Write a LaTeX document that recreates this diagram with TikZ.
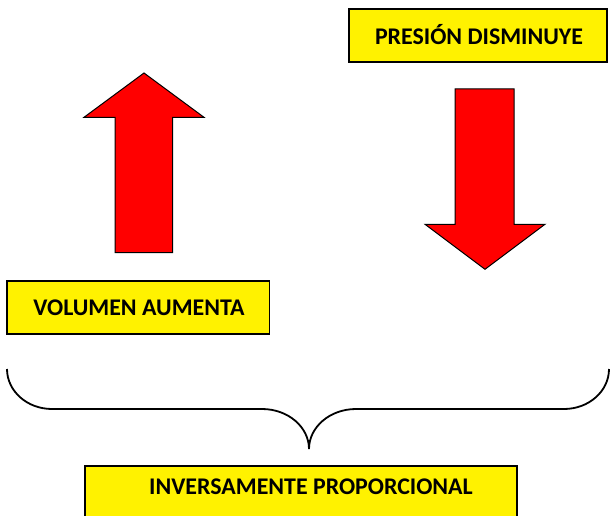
\documentclass[tikz,border=0pt]{standalone}
\usepackage{fontspec}
\setmainfont{Carlito}
\begin{document}
\begin{tikzpicture}[x=1pt,y=-1pt,
  ybox/.style={draw=black,line width=1.5pt,fill=yellow,inner sep=0pt},
  lbl/.style={font=\fontsize{23.9}{26}\selectfont\bfseries,inner sep=0pt,anchor=center},
  redarrow/.style={fill=red,draw=black,line width=1pt,line join=miter},
  bracestyle/.style={draw=black,line width=1.8pt}]
\useasboundingbox (0,0) rectangle (610,516);
\begin{scope}
\clip (0,0) rectangle (610,516);
% boxes
\node[ybox,minimum width=258pt,minimum height=53pt] (pbox) at (478,35.5) {};
\node[lbl] (ptext) at (479,35) {PRESIÓN DISMINUYE};
\node[ybox,minimum width=262.5pt,minimum height=53pt] (vbox) at (138,307.5) {};
\node[lbl] (vtext) at (139,308) {VOLUMEN AUMENTA};
\node[ybox,minimum width=432pt,minimum height=60pt] (ibox) at (301,496) {};
\node[lbl] (itext) at (311,487) {INVERSAMENTE PROPORCIONAL};
% up arrow
\path[redarrow] (144,73) -- (204,117.3) -- (172.7,117.3) -- (172.7,252.7) -- (115,252.7) -- (115,117.3) -- (84,117.3) -- cycle;
% down arrow
\path[redarrow] (455,89) -- (514,89) -- (514,224.3) -- (545,224.3) -- (485,269.3) -- (425,224.3) -- (455,224.3) -- cycle;
% brace
\coordinate (bl) at (7,369);
\coordinate (br) at (609,369);
\coordinate (bt) at (309,449);
\path[bracestyle] (bl) .. controls (7,391) and (27,409) .. (52,409)
  -- (262,409) .. controls (288,409) and (309,427) .. (bt)
  .. controls (309,427) and (330,409) .. (356,409)
  -- (564,409) .. controls (589,409) and (609,391) .. (br);
\end{scope}
\end{tikzpicture}
\end{document}
